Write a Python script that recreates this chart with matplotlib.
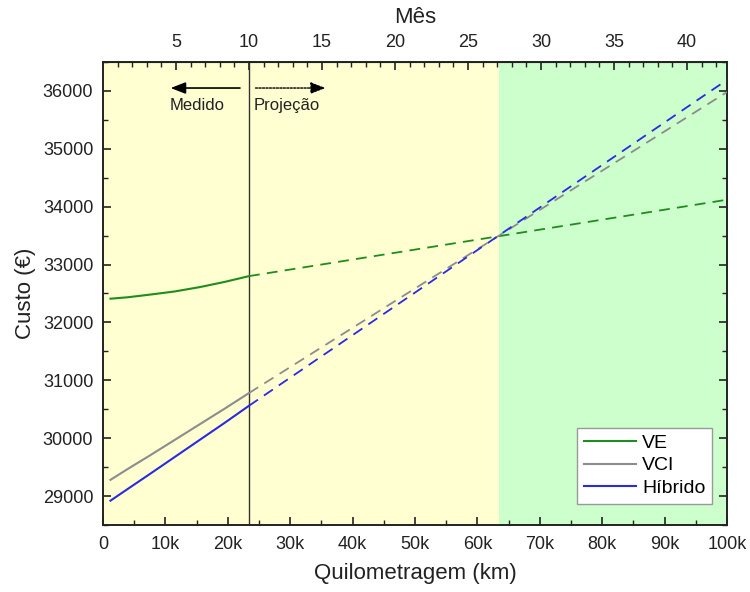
import matplotlib
matplotlib.use("Agg")
import matplotlib.pyplot as plt
from matplotlib.ticker import MultipleLocator, FixedLocator, FuncFormatter

# ---- data ----
km_measured = [1200, 4000, 7500, 11500, 15500, 19500, 23400]
ve_measured = [32410, 32435, 32480, 32535, 32610, 32700, 32800]
vci_measured = [29280, 29470, 29700, 29970, 30240, 30510, 30780]
hib_measured = [28920, 29125, 29380, 29675, 29970, 30265, 30560]

km_proj = [23400, 100000]
ve_proj = [32800, 34120]
vci_proj = [30780, 35980]
hib_proj = [30560, 36190]

km_split = 23400        # 10 months
km_cross = 63500        # crossover
km_per_month = 2340

series_names = ["VE", "VCI", "Híbrido"]
colors = ["#1e8c1e", "#8c8c8c", "#2a2ae0"]
month_ticks = [5, 10, 15, 20, 25, 30, 35, 40]

plt.rcParams['font.family'] = ['Liberation Sans', 'DejaVu Sans']
TXT = "#222222"

fig = plt.figure(figsize=(7.5, 5.92), dpi=100)
ax = fig.add_axes([0.1373, 0.1132, 0.832, 0.7821])

ax.set_xlim(0, 100000)
ax.set_ylim(28500, 36500)

ax.axvspan(0, km_cross, color="#ffffd2", zorder=0, lw=0)
ax.axvspan(km_cross, 100000, color="#ccffcc", zorder=0, lw=0)
ax.axvline(km_split, color="#333333", lw=1.0, zorder=1)

meas = [ve_measured, vci_measured, hib_measured]
proj = [ve_proj, vci_proj, hib_proj]
for name, c, m, p in zip(series_names, colors, meas, proj):
    ax.plot(km_measured, m, color=c, lw=1.5, label=name, zorder=3)
    ax.plot(km_proj, p, color=c, lw=1.3, ls=(0, (6, 4)), zorder=3)

# arrows
ax.annotate("", xy=(10400, 36050), xytext=(22400, 36050),
            arrowprops=dict(arrowstyle="-|>,head_length=0.9,head_width=0.35",
                            color="black", lw=1.2))
ax.annotate("", xy=(36100, 36050), xytext=(24000, 36050),
            arrowprops=dict(arrowstyle="-|>,head_length=0.9,head_width=0.35",
                            color="black", lw=1.0, ls=(0, (1.5, 1))))
narrow = ['Liberation Sans Narrow', 'Liberation Sans', 'DejaVu Sans']
ax.text(15100, 35740, "Medido", ha="center", va="center", fontsize=12,
        family=narrow, color=TXT)
ax.text(29500, 35740, "Projeção", ha="center", va="center", fontsize=12,
        family=narrow, color=TXT)

# ticks
ax.xaxis.set_major_locator(MultipleLocator(10000))
ax.xaxis.set_minor_locator(MultipleLocator(5000))
ax.xaxis.set_major_formatter(FuncFormatter(lambda v, p: "0" if v == 0 else f"{int(round(v/1000))}k"))
ax.yaxis.set_major_locator(MultipleLocator(1000))
ax.yaxis.set_minor_locator(MultipleLocator(500))
ax.tick_params(which="both", direction="in", right=True, labelsize=13, colors=TXT)
ax.tick_params(which="major", length=6, width=1.2)
ax.tick_params(which="minor", length=3.5, width=1.0)
ax.tick_params(axis="x", which="major", pad=8)
ax.tick_params(axis="y", which="major", pad=7)
for s in ax.spines.values():
    s.set_linewidth(1.4)
    s.set_color("#222222")

sec = ax.secondary_xaxis("top", functions=(lambda x: x / km_per_month, lambda m: m * km_per_month))
sec.xaxis.set_major_locator(FixedLocator(month_ticks))
sec.xaxis.set_minor_locator(FixedLocator(list(range(1, 43))))
sec.tick_params(which="both", direction="in", labelsize=13, colors=TXT)
sec.tick_params(which="major", length=6, width=1.2, pad=8)
sec.tick_params(which="minor", length=3.5, width=1.0)
sec.xaxis.set_major_formatter(FuncFormatter(lambda v, p: f"{int(round(v))}"))
sec.set_xlabel("Mês", fontsize=16, color=TXT, labelpad=8)

ax.set_xlabel("Quilometragem (km)", fontsize=16, color=TXT, labelpad=7)
ax.set_ylabel("Custo (€)", fontsize=16, color=TXT, labelpad=5)

leg = ax.legend(loc="lower right", fontsize=14, frameon=True, fancybox=False,
                edgecolor="#999999", framealpha=1, handlelength=2.7,
                borderpad=0.35, labelspacing=0.25, handletextpad=0.3,
                bbox_to_anchor=(0.992, 0.025))
leg.get_frame().set_linewidth(1.0)

fig.savefig("out.png", dpi=100)
